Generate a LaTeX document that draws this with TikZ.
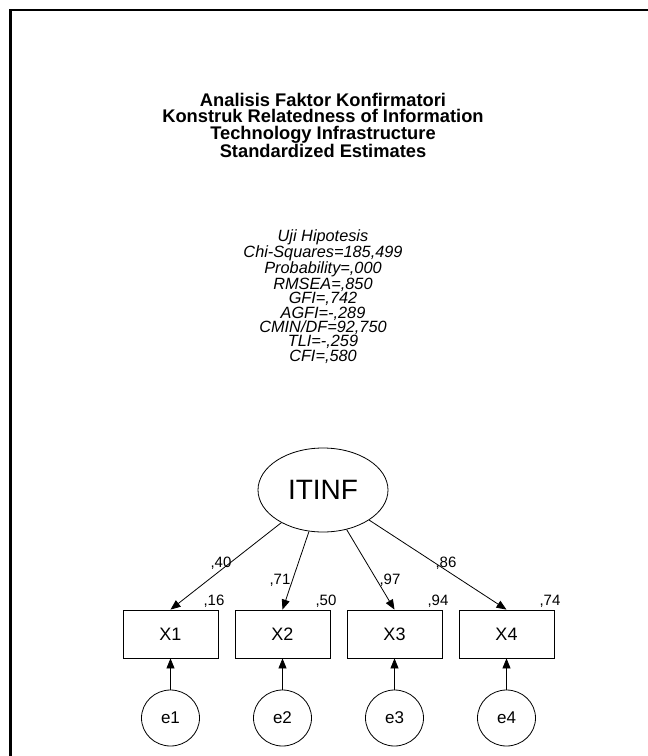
\documentclass[tikz,border=0pt]{standalone}
\usepackage{fontspec}
\setmainfont{Liberation Sans}
\usetikzlibrary{shapes.geometric,arrows.meta}
\begin{document}
\begin{tikzpicture}[x=1pt,y=-1pt,
  titletext/.style={font=\fontsize{18.3}{16.3}\selectfont\bfseries, align=center, inner sep=0pt},
  stattext/.style={font=\fontsize{16.3}{14.3}\selectfont\itshape, align=center, inner sep=0pt},
  latent/.style={draw, line width=0.8pt, ellipse, minimum width=130pt, minimum height=84pt, inner sep=0pt, font=\fontsize{28}{32}\selectfont},
  obs/.style={draw, line width=0.8pt, rectangle, minimum width=95pt, minimum height=48pt, inner sep=0pt, font=\fontsize{18}{22}\selectfont},
  err/.style={draw, line width=0.8pt, ellipse, minimum width=58pt, minimum height=56pt, inner sep=0pt, font=\fontsize{17}{20}\selectfont},
  conn/.style={-{Triangle[length=10pt,width=8pt]}, line width=0.8pt},
  lbl/.style={font=\fontsize{15}{18}\selectfont, inner sep=0pt}
]
\useasboundingbox (0,0) rectangle (648,756);
\fill[white] (0,0) rectangle (648,756);
\draw[line width=2.3pt] (10.5,756) -- (10.5,10) -- (648,10);

\node[titletext] (title) at (323,125.4) {Analisis Faktor Konfirmatori\\Konstruk Relatedness of Information\\Technology Infrastructure\\Standardized Estimates};

\node[stattext] (stats) at (323,296.5) {Uji Hipotesis\\Chi-Squares=185,499\\Probability=,000\\RMSEA=,850\\GFI=,742\\AGFI=-,289\\CMIN/DF=92,750\\TLI=-,259\\CFI=,580};

\node[latent] (itinf) at (323,490) {ITINF};

\node[obs] (x1) at (170.5,634) {X1};
\node[obs] (x2) at (282.5,634) {X2};
\node[obs] (x3) at (394.5,634) {X3};
\node[obs] (x4) at (506.5,634) {X4};

\node[err] (e1) at (170.5,718) {e1};
\node[err] (e2) at (282.5,718) {e2};
\node[err] (e3) at (394.5,718) {e3};
\node[err] (e4) at (506.5,718) {e4};

\draw[conn] (itinf) -- (x1.north);
\draw[conn] (itinf) -- (x2.north);
\draw[conn] (itinf) -- (x3.north);
\draw[conn] (itinf) -- (x4.north);

\draw[conn] (e1.north) -- (x1.south);
\draw[conn] (e2.north) -- (x2.south);
\draw[conn] (e3.north) -- (x3.south);
\draw[conn] (e4.north) -- (x4.south);

\node[lbl] (l40) at (221,563) {,40};
\node[lbl] (l71) at (280,580) {,71};
\node[lbl] (l97) at (390,580) {,97};
\node[lbl] (l86) at (446,563) {,86};
\node[lbl] (l16) at (214,601) {,16};
\node[lbl] (l50) at (326,601) {,50};
\node[lbl] (l94) at (438,601) {,94};
\node[lbl] (l74) at (550,601) {,74};
\end{tikzpicture}
\end{document}
